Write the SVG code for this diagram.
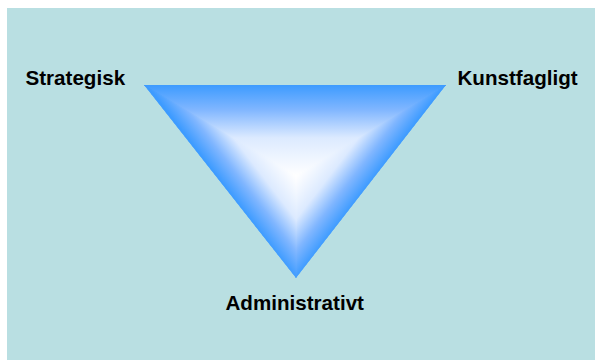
<svg xmlns="http://www.w3.org/2000/svg" width="595" height="360" viewBox="0 0 595 360">
  <style>
    .lbl { font-family: "Liberation Sans", Arial, sans-serif; font-weight: bold; font-size: 20.6px; fill: #000; }
  </style>
  <defs>
    <linearGradient id="gTop" gradientUnits="userSpaceOnUse" x1="296" y1="85" x2="296" y2="176">
      <stop offset="0" stop-color="#3d9bff"/>
      <stop offset="0.27" stop-color="#80b6ff"/>
      <stop offset="0.58" stop-color="#dceaff"/>
      <stop offset="1" stop-color="#ffffff"/>
    </linearGradient>
    <linearGradient id="gRight" gradientUnits="userSpaceOnUse" x1="345.9" y1="214.3" x2="296" y2="176">
      <stop offset="0" stop-color="#3d9bff"/>
      <stop offset="0.27" stop-color="#80b6ff"/>
      <stop offset="0.58" stop-color="#dceaff"/>
      <stop offset="1" stop-color="#ffffff"/>
    </linearGradient>
    <linearGradient id="gLeft" gradientUnits="userSpaceOnUse" x1="246.1" y1="214.3" x2="296" y2="176">
      <stop offset="0" stop-color="#3d9bff"/>
      <stop offset="0.27" stop-color="#80b6ff"/>
      <stop offset="0.58" stop-color="#dceaff"/>
      <stop offset="1" stop-color="#ffffff"/>
    </linearGradient>
    <clipPath id="triClip">
      <polygon points="144,85 446,85 296,278"/>
    </clipPath>
  </defs>
  <rect x="0" y="0" width="595" height="360" fill="#ffffff"/>
  <rect x="7" y="8" width="588" height="352" fill="#b9dfe2"/>
  <g id="triangle" clip-path="url(#triClip)">
    <polygon points="296,176 144,85 446,85" fill="url(#gTop)" stroke="url(#gTop)" stroke-width="1"/>
    <polygon points="296,176 446,85 296,278" fill="url(#gRight)" stroke="url(#gRight)" stroke-width="1"/>
    <polygon points="296,176 296,278 144,85" fill="url(#gLeft)" stroke="url(#gLeft)" stroke-width="1"/>
  </g>
  <g id="strategisk"><text class="lbl" x="25.5" y="85">Strategisk</text></g>
  <g id="kunstfagligt"><text class="lbl" x="457.5" y="85">Kunstfagligt</text></g>
  <g id="administrativt"><text class="lbl" x="225.5" y="310">Administrativt</text></g>
  <g id="connectors"/>
</svg>
